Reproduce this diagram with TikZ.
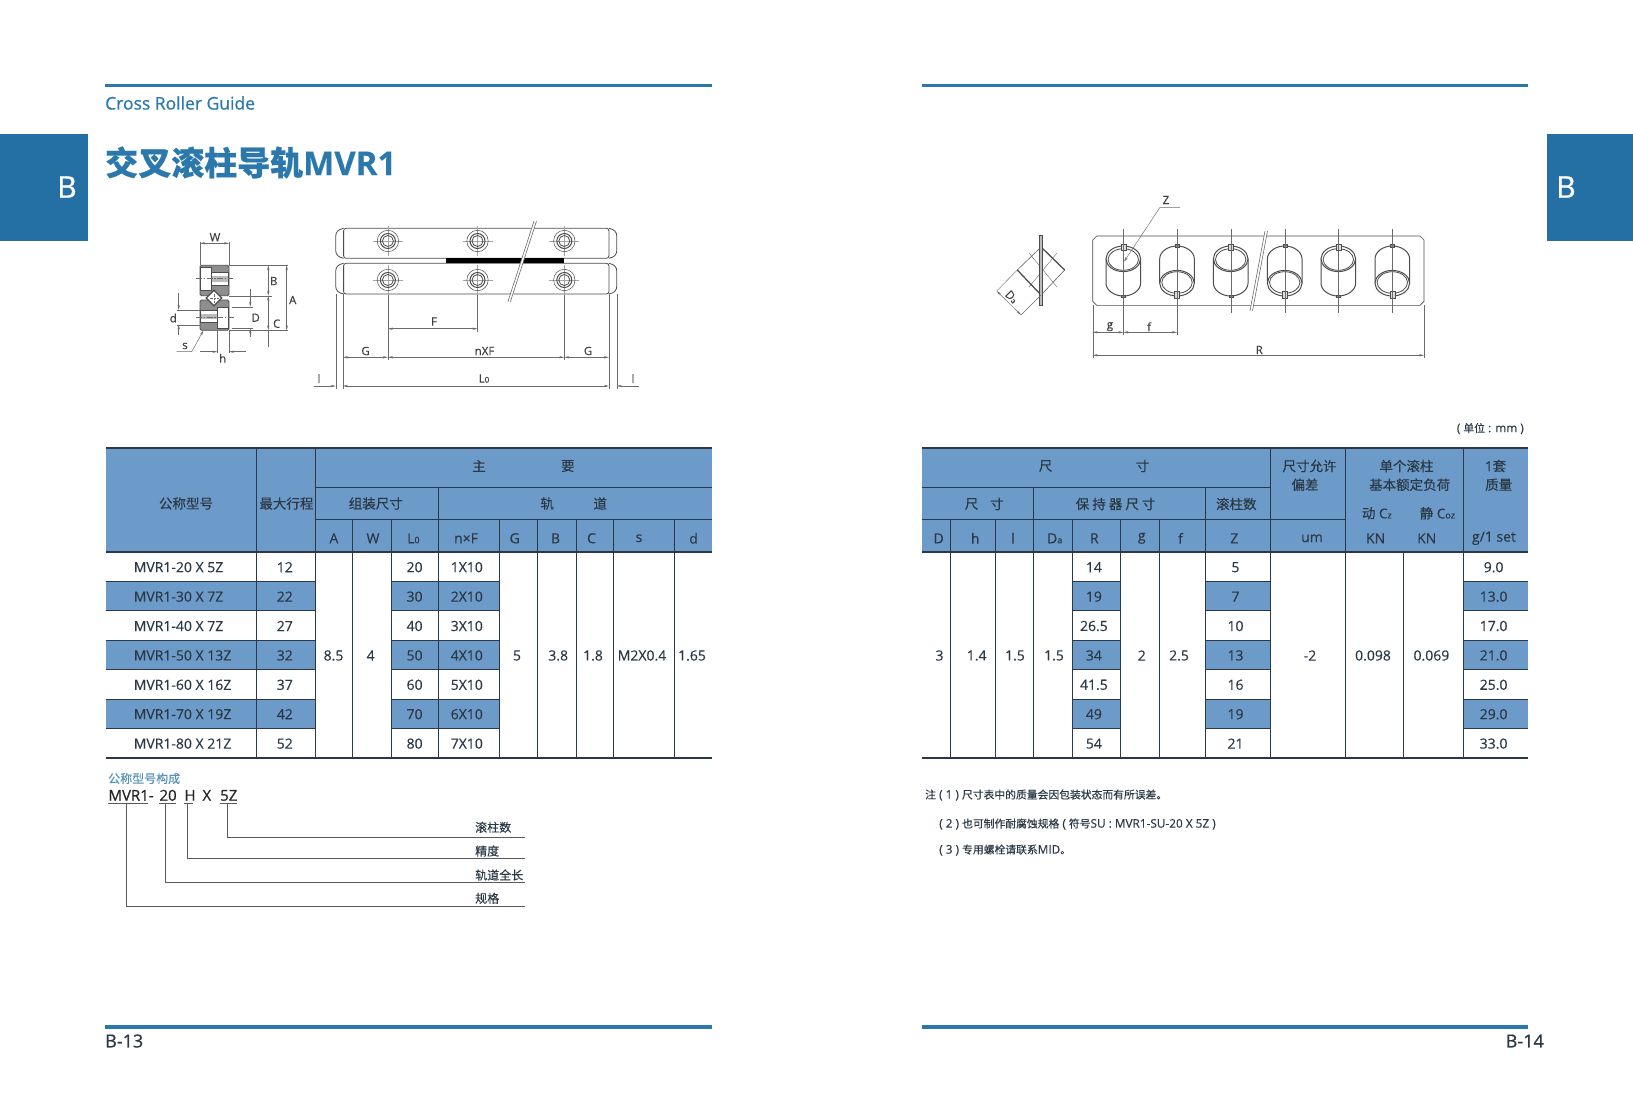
\documentclass[tikz,border=0pt]{standalone}
\usepackage{fontspec}
\setmainfont[FakeBold=.2]{Open Sans}
\newfontfamily\cjk[FakeBold=.2]{Noto Sans CJK SC}
\newfontfamily\cjkt[FakeBold=.45]{Noto Sans CJK SC}
\newfontfamily\heavy[FakeBold=.7]{Open Sans}
\usetikzlibrary{arrows.meta}
\definecolor{rulebl}{HTML}{2A78AC}
\definecolor{tabbl}{HTML}{2470A5}
\definecolor{headbl}{HTML}{6D9BC9}
\definecolor{inkc}{HTML}{2B3845}
\definecolor{dimc}{HTML}{6A6A6A}
\definecolor{partg}{HTML}{8E8E8E}
\newcommand{\fs}[1]{\fontsize{#1}{#1}\selectfont}
\newcommand{\ct}[1]{{\fs{10.8}\cjk #1}}
\tikzstyle{lab} = [inner sep=0pt, text=inkc, font=\fs{14}]
\tikzstyle{hlab} = [lab, font=\fs{13.5}\cjk]
\tikzstyle{dlab} = [inner sep=0pt, text=black!75, font=\fs{11.5}]
\tikzstyle{note} = [inner sep=0pt, anchor=west, text=inkc, font=\fs{11.8}]
\tikzstyle{toprule} = [line width=3.6pt, draw=rulebl]
\tikzstyle{tline} = [line width=.9pt, draw=inkc]
\tikzstyle{dimline} = [line width=.45pt, draw=dimc, >={Stealth[length=5pt,width=2.3pt]}]
\tikzstyle{extline} = [line width=.4pt, draw=dimc]
\tikzstyle{cline} = [line width=.4pt, draw=dimc, dash pattern=on 6pt off 1.5pt on 1.5pt off 1.5pt]
\tikzstyle{part} = [line width=.8pt, draw=black!70]
\tikzstyle{leader} = [line width=.8pt, draw=black!65]
\begin{document}
\begin{tikzpicture}[x=1pt,y=-1pt]

\path [use as bounding box, fill=white] (0,0) rectangle (1633,1104);

% page furniture
\draw [toprule] (105,85.5) -- (712,85.5);
\draw [toprule] (922,85.5) -- (1528,85.5);
\draw [toprule] (105,1027) -- (712,1027);
\draw [toprule] (922,1027) -- (1528,1027);
\fill [tabbl] (0,133.5) rectangle (88,241);
\fill [tabbl] (1546.8,133.5) rectangle (1633,241);
\node (tabl) [inner sep=0pt, text=white, font=\fs{30}\heavy] at (67,187) {B};
\node (tabr) [inner sep=0pt, text=white, font=\fs{30}\heavy] at (1566,187) {B};
\node (guide) [inner sep=0pt, anchor=west, text=rulebl, font=\fs{17.5}\heavy] at (105,103) {Cross Roller Guide};
\node (title) [inner sep=0pt, anchor=west, text=rulebl, font=\fs{33}\bfseries] at (105,162.5) {{\cjkt 交叉滚柱导轨}MVR1};
\node (pagel) [inner sep=0pt, anchor=west, text=inkc, font=\fs{18}\heavy] at (105,1041) {B-13};
\node (pager) [inner sep=0pt, anchor=east, text=inkc, font=\fs{18}\heavy] at (1544,1041) {B-14};

% left table
\fill [headbl] (106,448) rectangle (712,552);
\foreach \i in {2,4,6} {
  \fill [headbl] (106,{552+29.4*(\i-1)}) rectangle (315.7,{552+29.4*\i});
  \fill [headbl] (391.3,{552+29.4*(\i-1)}) rectangle (499.3,{552+29.4*\i});
}
\draw [tline, line width=1.4pt] (106,448) -- (712,448);
\draw [tline] (315.7,487) -- (712,487);
\draw [tline] (315.7,519) -- (712,519);
\draw [tline, line width=1.2pt] (106,552) -- (712,552);
\foreach \i in {1,...,6} {
  \draw [tline] (106,{552+29.4*\i}) -- (315.7,{552+29.4*\i});
  \draw [tline] (391.3,{552+29.4*\i}) -- (499.3,{552+29.4*\i});
}
\draw [line width=2pt, draw=inkc] (106,758) -- (712,758);
\foreach \x in {256.3,315.7} \draw [tline] (\x,448) -- (\x,758);
\draw [tline] (391.3,519) -- (391.3,758);
\draw [tline] (438.3,487) -- (438.3,758);
\foreach \x in {352.9,499.3,537.7,576.4,613.7,674.6} \draw [tline] (\x,519) -- (\x,758);

\node (hmod) [hlab] at (186,503.5) {公称型号};
\node (hstk) [hlab] at (286.4,503.5) {最大行程};
\node (hmain1) [hlab] at (479,466) {主};
\node (hmain2) [hlab] at (567.8,466) {要};
\node (hasm) [hlab] at (375.8,503.5) {组装尺寸};
\node (hrail1) [hlab] at (547.2,503.5) {轨};
\node (hrail2) [hlab] at (600.2,503.5) {道};
\foreach \n/\x/\t in {a/333.9/A,w/373/W,lo/413.4/L{\fs{9}0},nf/466/n×F,g/514.7/G,b/555.5/B,c/591.5/C,s/639/s,d/693.6/d}
  \node (col\n) [lab] at (\x,538.3) {\t};
\foreach \i/\m/\s/\l/\f in {1/20 X 5Z/12/20/1X10,2/30 X 7Z/22/30/2X10,3/40 X 7Z/27/40/3X10,4/50 X 13Z/32/50/4X10,5/60 X 16Z/37/60/5X10,6/70 X 19Z/42/70/6X10,7/80 X 21Z/52/80/7X10} {
  \node (mod\i) [lab, anchor=west] at (133.6,{552.5+29.4*(\i-.5)}) {MVR1-\m};
  \node (stk\i) [lab] at (284.8,{552.5+29.4*(\i-.5)}) {\s};
  \node (lo\i) [lab] at (414.6,{552.5+29.4*(\i-.5)}) {\l};
  \node (nf\i) [lab] at (466.8,{552.5+29.4*(\i-.5)}) {\f};
}
\foreach \n/\x/\t in {a/333.5/8.5,w/370.7/4,g/517/5,b/558.2/3.8,c/593/1.8,s/642/M2X0.4,d/692/1.65}
  \node (val\n) [lab] at (\x,655.5) {\t};

% right table
\fill [headbl] (922,448) rectangle (1528,552);
\foreach \i in {2,4,6} {
  \fill [headbl] (1072.5,{552+29.4*(\i-1)}) rectangle (1120.4,{552+29.4*\i});
  \fill [headbl] (1205.9,{552+29.4*(\i-1)}) rectangle (1270,{552+29.4*\i});
  \fill [headbl] (1463.5,{552+29.4*(\i-1)}) rectangle (1528,{552+29.4*\i});
}
\draw [tline, line width=1.4pt] (922,448) -- (1528,448);
\draw [tline] (922,487) -- (1270,487);
\draw [tline] (922,519) -- (1345.2,519);
\draw [tline, line width=1.2pt] (922,552) -- (1528,552);
\foreach \i in {1,...,6} {
  \draw [tline] (1072.5,{552+29.4*\i}) -- (1120.4,{552+29.4*\i});
  \draw [tline] (1205.9,{552+29.4*\i}) -- (1270,{552+29.4*\i});
  \draw [tline] (1463.5,{552+29.4*\i}) -- (1528,{552+29.4*\i});
}
\draw [line width=2pt, draw=inkc] (922,758) -- (1528,758);
\foreach \x in {950.2,995.7,1072.5,1120.4,1159.6} \draw [tline] (\x,519) -- (\x,758);
\foreach \x in {1033.7,1205.9} \draw [tline] (\x,487) -- (\x,758);
\foreach \x in {1270,1345.2,1463.5} \draw [tline] (\x,448) -- (\x,758);
\draw [tline] (1403.7,552) -- (1403.7,758);

\node (unit) [note, anchor=east] at (1524,428.5) {( \ct{单位} : mm )};
\node (hsize1) [hlab] at (1045.6,466) {尺};
\node (hsize2) [hlab] at (1142.5,466) {寸};
\node (htol1) [hlab] at (1309.5,466) {尺寸允许};
\node (htol2) [hlab] at (1305,484.7) {偏差};
\node (hload1) [hlab] at (1406.5,466) {单个滚柱};
\node (hload2) [hlab] at (1409.7,484.7) {基本额定负荷};
\node (hmass1) [lab] at (1495.5,466) {\fs{13.5}1{\cjk 套}};
\node (hmass2) [hlab] at (1498.7,484.7) {质量};
\node (hsub1) [hlab] at (971.6,504) {尺};
\node (hsub2) [hlab] at (996.9,504) {寸};
\node (hcage) [hlab] at (1115.6,504) {保 持 器 尺 寸};
\node (hnum) [hlab] at (1236.3,504) {滚柱数};
\node (hdyn) [lab] at (1376.8,513.3) {\fs{13.5}{\cjk 动} C{\fs{9}z}};
\node (hsta) [lab] at (1437.4,513.3) {\fs{13.5}{\cjk 静} C{\fs{9}oz}};
\foreach \n/\x/\t in {d/938.7/D,h/975.2/h,l/1013/l,da/1054.7/D{\fs{9}a},r/1094.3/R,g/1141.8/g,f/1180.5/f,z/1234.4/Z,um/1312/um,ka/1375.6/KN,kb/1426.7/KN,m/1494/g{/}1 set}
  \node (rcol\n) [lab] at (\x,538.3) {\t};
\foreach \i/\r/\z/\m in {1/14/5/9.0,2/19/7/13.0,3/26.5/10/17.0,4/34/13/21.0,5/41.5/16/25.0,6/49/19/29.0,7/54/21/33.0} {
  \node (rr\i) [lab] at (1093.9,{552.5+29.4*(\i-.5)}) {\r};
  \node (rz\i) [lab] at (1235.5,{552.5+29.4*(\i-.5)}) {\z};
  \node (rm\i) [lab] at (1493.6,{552.5+29.4*(\i-.5)}) {\m};
}
\foreach \n/\x/\t in {d/939.5/3,h/976.7/1.4,l/1015/1.5,da/1054/1.5,g/1141.8/2,f/1179/2.5,t/1310/-2,ca/1373/0.098,cb/1431.4/0.069}
  \node (rval\n) [lab] at (\x,655.5) {\t};

% model code legend
\node (codehd) [inner sep=0pt, anchor=west, text=rulebl!80, font=\fs{12}\cjk] at (108,778.5) {公称型号构成};
\tikzstyle{code} = [inner sep=0pt, anchor=base west, text=black!85, font=\fs{15}\heavy]
\node (cmvr) [code] at (108.3,800.7) {MVR1-};
\node (c20) [code] at (159.3,800.7) {20};
\node (ch) [code] at (184.3,800.7) {H};
\node (cx) [code] at (202.3,800.7) {X};
\node (c5z) [code] at (220,800.7) {5Z};
\foreach \a/\b in {108.3/148,159.3/175.7,184.3/193.3,220/237} \draw [leader] (\a,803.7) -- (\b,803.7);
\foreach \n/\y/\t in {a/827.3/滚柱数,b/851/精度,c/875/轨道全长,d/898.3/规格}
  \node (leg\n) [inner sep=0pt, anchor=west, text=inkc, font=\fs{12}\cjk] at (475,\y) {\t};
\foreach \n/\x/\y in {a/227.3/837.7,b/187.7/858.7,c/165/882.7,d/126/906.7} {
  \coordinate (st\n) at (\x,803.7);
  \coordinate (en\n) at (525,\y);
  \draw [leader] (st\n) |- (en\n);
}

% notes
\node (note1) [note] at (925,795) {\ct{注} ( 1 ) \ct{尺寸表中的质量会因包装状态而有所误差。}};
\node (note2) [note] at (939,824) {( 2 ) \ct{也可制作耐腐蚀规格} ( \ct{符号}SU : MVR1-SU-20 X 5Z )};
\node (note3) [note] at (939,850) {( 3 ) \ct{专用螺栓请联系}MID\ct{。}};

% rails
\foreach \t/\b in {228.3/258.3,263.3/294} {
  \draw [part] (343.6,\t) .. controls (338,\t+1) and (335.7,\t+4) .. (335.7,\t+8) -- (335.7,\b-8) .. controls (335.7,\b-4) and (338,\b-1) .. (343.6,\b);
  \draw [part] (608.9,\t) .. controls (614.5,\t+1) and (616.8,\t+4) .. (616.8,\t+8) -- (616.8,\b-8) .. controls (616.8,\b-4) and (614.5,\b-1) .. (608.9,\b);
  \draw [part, rounded corners=2.5] (343.6,\t) rectangle (608.9,\b);
}
\fill [black] (445.7,258.3) rectangle (564.3,263.3);
\foreach \cx in {387.9,477.5,564.3}
  \foreach \cy in {241,280} {
    \draw [extline, draw=dimc!60] (\cx-15,\cy) -- (\cx+15,\cy) (\cx,\cy-15) -- (\cx,\cy+15);
    \draw [part, line width=.5pt] (\cx,\cy) circle (10.7);
    \draw [part, line width=1pt] (\cx,\cy) circle (7.5);
    \draw [part] (\cx,\cy) circle (5.5);
  }
\fill [white] (534,221) -- (536.5,221) -- (510.4,301.7) -- (507.9,301.7) -- cycle;
\draw [extline, line width=.6pt] (534,221) -- (507.9,301.7) (536.5,221) -- (510.4,301.7);
\draw [extline] (387.9,295) -- (387.9,360) (477.5,295) -- (477.5,331.7) (564.3,295) -- (564.3,360);
\draw [extline] (335.7,294) -- (335.7,388.7) (343,294) -- (343,388.7) (608.9,294) -- (608.9,388.7) (616.8,294) -- (616.8,388.7);
\draw [dimline, <->] (387.9,328.7) -- (477.5,328.7);
\draw [dimline, <->] (343,357.3) -- (387.9,357.3);
\draw [dimline, <->] (387.9,357.3) -- (564.3,357.3);
\draw [dimline, <->] (564.3,357.3) -- (608.9,357.3);
\draw [dimline, <->] (343,386) -- (608.9,386);
\draw [dimline, ->] (313.6,386) -- (335.7,386);
\draw [dimline, ->] (639.3,386) -- (616.8,386);
\node (lf) [dlab] at (434,321.5) {F};
\node (lg1) [dlab] at (365.5,351) {G};
\node (lnf) [dlab] at (484.5,351) {nXF};
\node (lg2) [dlab] at (588,351) {G};
\node (ll1) [dlab] at (319,378.5) {l};
\node (llo) [dlab] at (484,378.5) {L{\fs{8}0}};
\node (ll2) [dlab] at (633,378.5) {l};

% end section
\draw [part, fill=partg, rounded corners=1.5] (200,265.3) rectangle (229,295.7);
\draw [part, fill=white] (211.7,272.3) rectangle (228.5,285.7);
\fill [partg!60!white] (212.2,276) rectangle (228,282);
\draw [part, fill=white] (200.7,267.7) rectangle (211.7,290);
\draw [part, fill=partg, rounded corners=1.5] (200,300) rectangle (229,330.3);
\draw [part, fill=white] (200.5,310.7) rectangle (217.3,322.7);
\fill [partg!60!white] (201,314) rectangle (217,319);
\draw [part, fill=white] (217.3,307.7) rectangle (228.3,328.3);
\draw [line width=1.3pt, draw=black!70, fill=white] (214,290.3) -- (221.7,298) -- (214,305.7) -- (206.3,298) -- cycle;
\draw [extline, densely dotted] (209.5,298) -- (218.5,298) (214,293.5) -- (214,302.5);
\draw [cline] (196,278.3) -- (233.3,278.3);
\draw [cline] (196,317.3) -- (234,317.3);
\draw [extline] (200,242) -- (200,265) (229,242) -- (229,265);
\draw [dimline, <->] (200,243.3) -- (229,243.3);
\draw [extline] (229,265.3) -- (288.3,265.3) (229,295.7) -- (271.7,295.7) (229,330.3) -- (288.3,330.3);
\draw [dimline, <->] (268.3,265.3) -- (268.3,295.7);
\draw [dimline, <->] (286.7,265.3) -- (286.7,330.3);
\draw [dimline, <->] (268.3,295.7) -- (268.3,330.3);
\draw [dimline] (268.3,330.3) -- (268.3,347.3);
\draw [extline] (231.7,306.7) -- (253.3,306.7) (231.7,328.3) -- (253.3,328.3);
\draw [dimline, ->] (250.3,289.3) -- (250.3,306.7);
\draw [dimline, ->] (250.3,336.7) -- (250.3,328.3);
\draw [extline] (176.7,310) -- (200,310) (176.7,324.7) -- (200,324.7);
\draw [dimline, ->] (178.7,292.7) -- (178.7,310);
\draw [dimline, ->] (178.7,335) -- (178.7,324.7);
\draw [dimline, ->] (176.7,351.7) -- (191.7,351.7) -- (203.3,330.7);
\draw [extline] (217.3,330) -- (217.3,353.3) (229,330) -- (229,353.3);
\draw [dimline, ->] (200,351.7) -- (217.3,351.7);
\draw [dimline, ->] (246,351.7) -- (229,351.7);
\node (lw) [dlab] at (215,237.3) {W};
\node (lb) [dlab] at (273.7,281) {B};
\node (la) [dlab] at (292.7,300) {A};
\node (lc) [dlab] at (276.7,323.7) {C};
\node (ld) [dlab] at (255.7,317.7) {D};
\node (ld2) [dlab] at (173.3,318) {d};
\node (ls) [dlab] at (185,346) {s};
\node (lh) [dlab] at (222.7,358.3) {h};

% cage plate
\draw [part, line width=.6pt] (1096.7,236) -- (1420,236) -- (1424,240) -- (1424,301.3) -- (1420,305.3) -- (1096.7,305.3) -- (1092.7,301.3) -- (1092.7,240) -- cycle;
\foreach \cx/\fl in {1123.3/1,1177/-1,1230.7/1,1284.7/-1,1338.3/1,1392.3/-1} {
  \begin{scope}[shift={(\cx,271)},yscale=\fl]
    \draw [part, line width=1pt, fill=white] (-17.3,-12.2) -- (-17.3,12.2) .. controls (-17.3,19) and (-9.5,25) .. (0,25) .. controls (9.5,25) and (17.3,19) .. (17.3,12.2) -- (17.3,-12.2);
    \draw [part, line width=1pt, fill=white] (0,-12.2) ellipse (17.3 and 12.8);
    \draw [part] (0,-11.5) ellipse (15.2 and 10.8);
    \draw [part, fill=partg!30!white, line width=.5pt] (-2.5,-27) rectangle (2.5,-20.5);
    \draw [part, fill=partg, line width=.4pt] (-2,24) rectangle (2,26.5);
  \end{scope}
  \draw [extline] (\cx,229) -- (\cx,313.3);
}
\fill [white] (1265,231) -- (1267.5,231) -- (1252.5,310.7) -- (1250,310.7) -- cycle;
\draw [extline, line width=.6pt] (1265,231) -- (1250,310.7) (1267.5,231) -- (1252.5,310.7);
\draw [dimline, ->] (1180,207.3) -- (1160,207.3) -- (1124,261.7);
\node (lz) [dlab] at (1166,200) {Z};
\draw [extline] (1092.7,305.3) -- (1092.7,358) (1123.3,313.3) -- (1123.3,335) (1177,313.3) -- (1177,335) (1424,305.3) -- (1424,358);
\draw [dimline, <->] (1092.7,332.3) -- (1123.3,332.3);
\draw [dimline, <->] (1123.3,332.3) -- (1177,332.3);
\draw [dimline, <->] (1092.7,355.3) -- (1424,355.3);
\node (lsg) [dlab] at (1110,326.7) {g};
\node (lsf) [dlab] at (1149,326.7) {f};
\node (lsr) [dlab] at (1259.3,350) {R};

% cage section
\draw [extline] (1029,253) -- (1057,287) (1057,253) -- (1029,287);
\draw [part, line width=.5pt] (1041,247) -- (1064.7,270) -- (1041,295) -- (1017.3,270) -- cycle;
\draw [part, line width=1.2pt] (1041,247) -- (1064.7,270) (1017.3,270) -- (1041,295);
\draw [part, fill=partg!60!white, line width=.5pt] (1039.3,235.7) rectangle (1042.7,305);
\draw [extline] (996.7,291) -- (1017.3,270) (1021,315) -- (1041,295);
\draw [dimline, <->] (996.7,291) -- (1021,315);
\node (lda) [dlab, rotate=-45] at (1011.7,296.7) {D{\fs{7}a}};

\end{tikzpicture}
\end{document}
